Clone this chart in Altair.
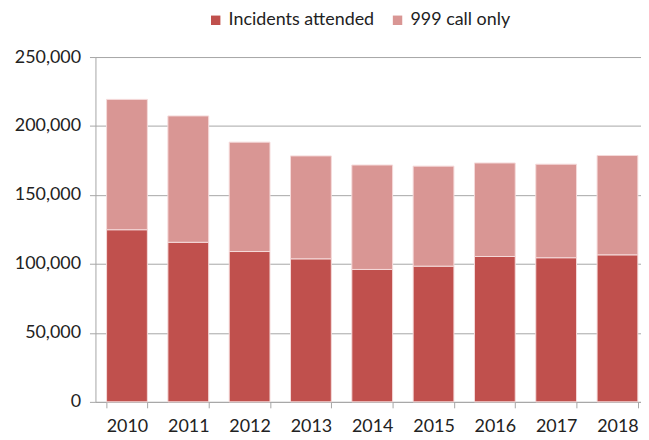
import altair as alt
import pandas as pd

years = ["2010", "2011", "2012", "2013", "2014", "2015", "2016", "2017", "2018"]
attended = [124800, 115700, 109000, 103700, 96000, 98400, 105400, 104500, 106600]
call_only = [94500, 91600, 79300, 74600, 75700, 72500, 67800, 67800, 72000]
series = ["Incidents attended", "999 call only"]
colors = ["#C0504D", "#D99694"]

rows = []
for y, a, c in zip(years, attended, call_only):
    rows.append({"year": y, "series": series[0], "value": a, "ord": 0})
    rows.append({"year": y, "series": series[1], "value": c, "ord": 1})
df = pd.DataFrame(rows)

FONT = "Lato"
TXT = "#222222"
GRID = "#A6A6A6"

chart = alt.Chart(df).mark_bar(stroke="#F5DADA", strokeWidth=1).encode(
    x=alt.X("year:N", sort=years, title=None,
            scale=alt.Scale(paddingInner=0.335, paddingOuter=0.1165, align=0.78),
            axis=alt.Axis(labelAngle=0, tickBand="extent", tickSize=6,
                          tickColor=GRID, domainColor=GRID, labelPadding=10,
                          labelFontSize=18, labelFont=FONT, labelColor=TXT)),
    y=alt.Y("value:Q", title=None, stack="zero",
            scale=alt.Scale(domain=[0, 250000], nice=False),
            axis=alt.Axis(values=[0, 50000, 100000, 150000, 200000, 250000],
                          format=",.0f", tickSize=6, tickColor=GRID,
                          domainColor=GRID, gridColor=GRID, grid=True,
                          labelPadding=9, labelFontSize=18, labelFont=FONT,
                          labelColor=TXT)),
    color=alt.Color("series:N", sort=series,
                    scale=alt.Scale(domain=series, range=colors),
                    legend=alt.Legend(title=None, orient="none", direction="horizontal",
                                      legendX=112, legendY=-46, symbolType="square",
                                      symbolSize=90, symbolStrokeWidth=0,
                                      labelFontSize=18, labelFont=FONT, labelColor=TXT,
                                      labelLimit=300, columnPadding=14, labelOffset=4)),
    order=alt.Order("ord:Q", sort="ascending"),
).properties(
    width=549, height=347,
    autosize=alt.AutoSizeParams(type="none"),
    padding={"left": 88, "top": 48, "right": 0, "bottom": 33},
).configure_view(stroke=None)

chart.save("out.html", embed_options={"renderer": "svg", "actions": False})
